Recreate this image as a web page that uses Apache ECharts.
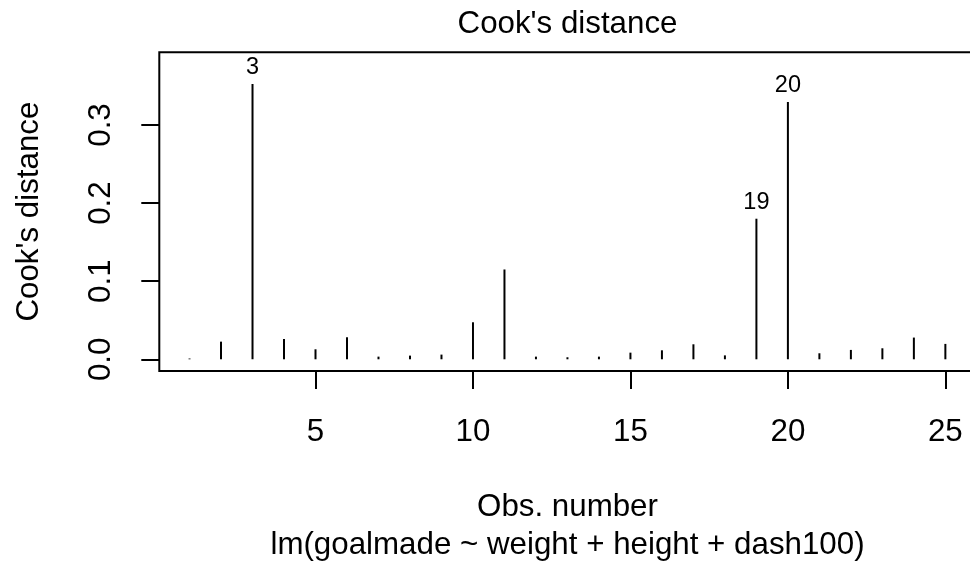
<!DOCTYPE html>
<html>
<head>
<meta charset="utf-8">
<script src="https://cdn.jsdelivr.net/npm/echarts@6/dist/echarts.min.js"></script>
<style>
  html, body { margin: 0; padding: 0; background: #fff; }
  #chart { width: 970px; height: 564px; }
</style>
</head>
<body>
<div id="chart"></div>
<script>
// ---- data ----
const obsNumber = [1, 2, 3, 4, 5, 6, 7, 8, 9, 10, 11, 12, 13, 14, 15, 16, 17, 18, 19, 20, 21, 22, 23, 24, 25];
const cooksDistance = [0.001, 0.0226, 0.3526, 0.026, 0.0128, 0.0282, 0.0034, 0.0047, 0.006, 0.0474,
                       0.115, 0.0034, 0.0026, 0.0034, 0.0085, 0.0115, 0.0192, 0.005, 0.18, 0.3295,
                       0.0077, 0.012, 0.0141, 0.0278, 0.0197];
const labelledObs = [3, 19, 20];
const xTickValues = [5, 10, 15, 20, 25];
const yTickValues = [0, 0.1, 0.2, 0.3];
const titleText = "Cook's distance";
const xAxisTitle = "Obs. number";
const captionText = "lm(goalmade ~ weight + height + dash100)";
const yAxisTitle = "Cook's distance";

// ---- chart ----
const FONT = "'Liberation Sans', Arial, Helvetica, sans-serif";
const FS = 31.3;
const LFS = 23.5;
const chart = echarts.init(document.getElementById('chart'), null, { renderer: 'canvas' });

const stemData = obsNumber.map((x, i) => [x, cooksDistance[i]]);

const textStyle = (t) => ({
  text: t, font: FS + 'px ' + FONT, fill: '#000',
  align: 'center', verticalAlign: 'middle', textAlign: 'center', textVerticalAlign: 'middle'
});

const option = {
  animation: false,
  backgroundColor: '#ffffff',
  grid: {
    left: 159.3, top: 52.3, right: -5.6, bottom: 193,
    show: true, borderColor: '#000', borderWidth: 2, backgroundColor: 'transparent',
    containLabel: false, outerBoundsMode: 'none'
  },
  xAxis: {
    type: 'value', min: 0.04, max: 25.96,
    splitLine: { show: false },
    axisLine: { show: false, onZero: false },
    axisTick: { show: true, length: 18, lineStyle: { color: '#000', width: 2 }, customValues: xTickValues },
    axisLabel: {
      show: true, customValues: xTickValues, margin: 46,
      fontFamily: FONT, fontSize: FS, lineHeight: 31, color: '#000'
    }
  },
  yAxis: {
    type: 'value', min: -0.0150, max: 0.3931,
    splitLine: { show: false },
    axisLine: { show: false, onZero: false },
    axisTick: { show: true, length: 18, lineStyle: { color: '#000', width: 2 }, customValues: yTickValues },
    axisLabel: {
      show: true, customValues: yTickValues, margin: 42, rotate: 90,
      fontFamily: FONT, fontSize: FS, lineHeight: 31, color: '#000',
      formatter: v => Number(v).toFixed(1)
    }
  },
  series: [
    {
      type: 'custom',
      data: stemData,
      clip: false,
      renderItem: function (params, api) {
        const x = api.value(0), y = api.value(1);
        const p0 = api.coord([x, 0]);
        const p1 = api.coord([x, y]);
        const children = [{
          type: 'line',
          shape: { x1: p0[0], y1: p0[1], x2: p1[0], y2: p1[1] },
          style: { stroke: '#000', lineWidth: 2 }
        }];
        if (labelledObs.includes(x)) {
          children.push({
            type: 'text',
            x: p1[0], y: p1[1] - 16,
            style: {
              text: String(x), font: LFS + 'px ' + FONT, fill: '#000',
              align: 'center', verticalAlign: 'middle', textAlign: 'center', textVerticalAlign: 'middle'
            }
          });
        }
        return { type: 'group', children: children };
      },
      encode: { x: 0, y: 1 },
      silent: true
    }
  ],
  graphic: [
    { type: 'text', x: 567.5, y: 24.5, silent: true, style: textStyle(titleText) },
    { type: 'text', x: 567.5, y: 507.5, silent: true, style: textStyle(xAxisTitle) },
    { type: 'text', x: 567.5, y: 545.5, silent: true, style: textStyle(captionText) },
    { type: 'text', x: 29.5, y: 211.6, rotation: Math.PI / 2, silent: true, style: textStyle(yAxisTitle) }
  ]
};
chart.setOption(option);
</script>
</body>
</html>
